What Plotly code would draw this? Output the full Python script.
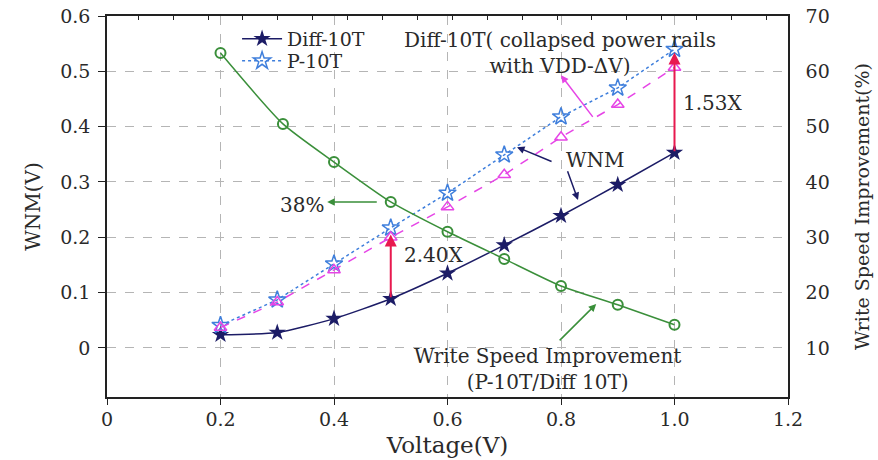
import plotly.graph_objects as go

# ---------------- data ----------------
voltage = [0.2, 0.3, 0.4, 0.5, 0.6, 0.7, 0.8, 0.9, 1.0]
diff_10t = [0.024, 0.028, 0.053, 0.089, 0.135, 0.186, 0.239, 0.295, 0.353]
p_10t = [0.041, 0.087, 0.152, 0.217, 0.280, 0.349, 0.418, 0.470, 0.540]
collapsed = [0.037, 0.083, 0.141, 0.200, 0.255, 0.313, 0.381, 0.440, 0.507]

speed_voltage = [0.2, 0.31, 0.4, 0.5, 0.6, 0.7, 0.8, 0.9, 1.0]
speed_improvement = [63.3, 50.5, 43.6, 36.4, 31.0, 26.1, 21.2, 17.8, 14.2]

x_ticks = [0, 0.2, 0.4, 0.6, 0.8, 1.0, 1.2]
x_tick_text = ["0", "0.2", "0.4", "0.6", "0.8", "1.0", "1.2"]
wnm_ticks = [0, 0.1, 0.2, 0.3, 0.4, 0.5, 0.6]
wnm_tick_text = ["0", "0.1", "0.2", "0.3", "0.4", "0.5", "0.6"]
speed_ticks = [10, 20, 30, 40, 50, 60, 70]

# ---------------- style ----------------
FONT = "DejaVu Serif, Liberation Serif, serif"
TXT = "#2a2a2a"
NAVY = "#1c1c66"
BLUE = "#3f7fdc"
MAGENTA = "#e645e6"
GREEN = "#3a8f3a"
RED = "#e8194f"
GRID = "#b5b5b5"

fig = go.Figure()

fig.add_trace(go.Scatter(
    x=voltage, y=diff_10t, name="Diff-10T", mode="lines+markers", legend="legend",
    line=dict(color=NAVY, width=1.5, shape="spline", smoothing=0.6),
    marker=dict(symbol="star", size=13, color=NAVY),
))
fig.add_trace(go.Scatter(
    x=voltage, y=p_10t, name="P-10T", mode="lines+markers", legend="legend2",
    line=dict(color=BLUE, width=1.5, dash="dot"),
    marker=dict(symbol="star-open", size=13, color=BLUE, line=dict(width=1.5)),
))
fig.add_trace(go.Scatter(
    x=voltage, y=collapsed, name="Diff-10T collapsed", mode="lines+markers",
    showlegend=False,
    line=dict(color=MAGENTA, width=1.5, dash="dash"),
    marker=dict(symbol="triangle-up-open", size=11, color=MAGENTA, line=dict(width=1.5)),
))
fig.add_trace(go.Scatter(
    x=speed_voltage, y=speed_improvement, name="Write Speed Improvement",
    mode="lines+markers", showlegend=False, yaxis="y2",
    line=dict(color=GREEN, width=1.5, shape="spline", smoothing=0.6),
    marker=dict(symbol="circle-open", size=10, color=GREEN, line=dict(width=2)),
))

# helper to convert a right-axis value to left-axis coordinates
L0, L1 = -0.0886, 0.6
R0, R1 = 1.14, 70.0


def right_to_left(v):
    return L0 + (v - R0) / (R1 - R0) * (L1 - L0)


ann = []


def arrow(x, y, ax, ay, color, width=1.5, size=1.0, head=2):
    ann.append(dict(x=x, y=y, ax=ax, ay=ay, xref="x", yref="y", axref="x", ayref="y",
                    text="", showarrow=True, arrowhead=head, arrowsize=size,
                    arrowwidth=width, arrowcolor=color))


def label(x, y, text, size=20):
    ann.append(dict(x=x, y=y, xref="x", yref="y", text=text, showarrow=False,
                    font=dict(family=FONT, size=size, color=TXT)))


# red improvement arrows (from data)
arrow(voltage[3], p_10t[3] - 0.012, voltage[3], diff_10t[3], RED, width=2, size=1.2)
arrow(voltage[8], p_10t[8] - 0.006, voltage[8], diff_10t[8], RED, width=2, size=1.2)

# text labels
label(0.798, 0.533, "Diff-10T( collapsed power rails<br>with VDD-\u0394V)")
arrow(0.800, 0.493, 0.858, collapsed[7] - 0.025, MAGENTA, width=1.5)

label(0.860, 0.340, "WNM")
arrow(0.7225, 0.363, 0.786, 0.336, NAVY)
arrow(0.830, 0.2675, 0.8106, 0.322, NAVY)

label(0.343, 0.258, "38%")
arrow(0.388, right_to_left(speed_improvement[3]), 0.478, right_to_left(speed_improvement[3]), GREEN)

label(0.576, 0.168, "2.40X")
label(1.068, 0.443, "1.53X")

label(0.777, -0.038, "Write Speed Improvement<br>(P-10T/Diff 10T)")
arrow(0.862, 0.0795, 0.795, 0.011, GREEN)

legend_common = dict(xanchor="left", yanchor="middle", bgcolor="rgba(0,0,0,0)",
                     font=dict(family=FONT, size=19, color=TXT), itemwidth=40,
                     borderwidth=0)

fig.update_layout(
    width=878, height=460, autosize=False,
    margin=dict(l=107, r=90, t=16, b=63, autoexpand=False),
    paper_bgcolor="white", plot_bgcolor="white",
    font=dict(family=FONT, size=19, color=TXT),
    showlegend=True,
    legend=dict(x=0.191, y=0.940, **legend_common),
    legend2=dict(x=0.191, y=0.882, **legend_common),
    annotations=ann,
    xaxis=dict(
        range=[0, 1.2], tickvals=x_ticks, ticktext=x_tick_text, automargin=False,
        showline=True, linecolor="#222", linewidth=1.5, mirror=True,
        ticks="outside", ticklen=6, tickcolor="#222", ticklabelstandoff=-2,
        showgrid=True, gridcolor=GRID, griddash="dash", gridwidth=1,
        zeroline=False, tickfont=dict(family=FONT, size=19, color=TXT),
        title=dict(text="Voltage(V)", font=dict(family=FONT, size=23, color=TXT), standoff=8),
    ),
    xaxis2=dict(
        range=[0, 1.2], overlaying="x", side="top", tick0=0.055, dtick=0.0615,
        ticks="inside", ticklen=4, tickcolor="#222", showticklabels=False, automargin=False,
        showgrid=False, zeroline=False, showline=False,
    ),
    yaxis=dict(
        range=[L0, L1], tickvals=wnm_ticks, ticktext=wnm_tick_text, automargin=False,
        showline=True, linecolor="#222", linewidth=1.5,
        ticks="outside", ticklen=7, tickcolor="#222",
        showgrid=True, gridcolor=GRID, griddash="dash", gridwidth=1,
        zeroline=False, tickfont=dict(family=FONT, size=19, color=TXT),
        ticklabelstandoff=4,
        title=dict(text="WNM(V)", font=dict(family=FONT, size=20, color=TXT), standoff=14),
    ),
    yaxis2=dict(
        range=[R0, R1], tickvals=speed_ticks, overlaying="y", side="right", automargin=False,
        showline=True, linecolor="#222", linewidth=1.5,
        ticks="", showgrid=False, zeroline=False,
        tickfont=dict(family=FONT, size=19, color=TXT), ticklabelstandoff=12,
        title=dict(text="Write Speed Improvement(%)", font=dict(family=FONT, size=19, color=TXT),
                   standoff=27),
    ),
)

# dummy trace to activate the top tick axis
fig.add_trace(go.Scatter(x=[0.6], y=[0.3], xaxis="x2", mode="markers",
                         marker=dict(opacity=0), showlegend=False, hoverinfo="skip"))

fig.write_html("out.html", config={"displayModeBar": False},
               post_script="document.body.style.margin='0px';")
